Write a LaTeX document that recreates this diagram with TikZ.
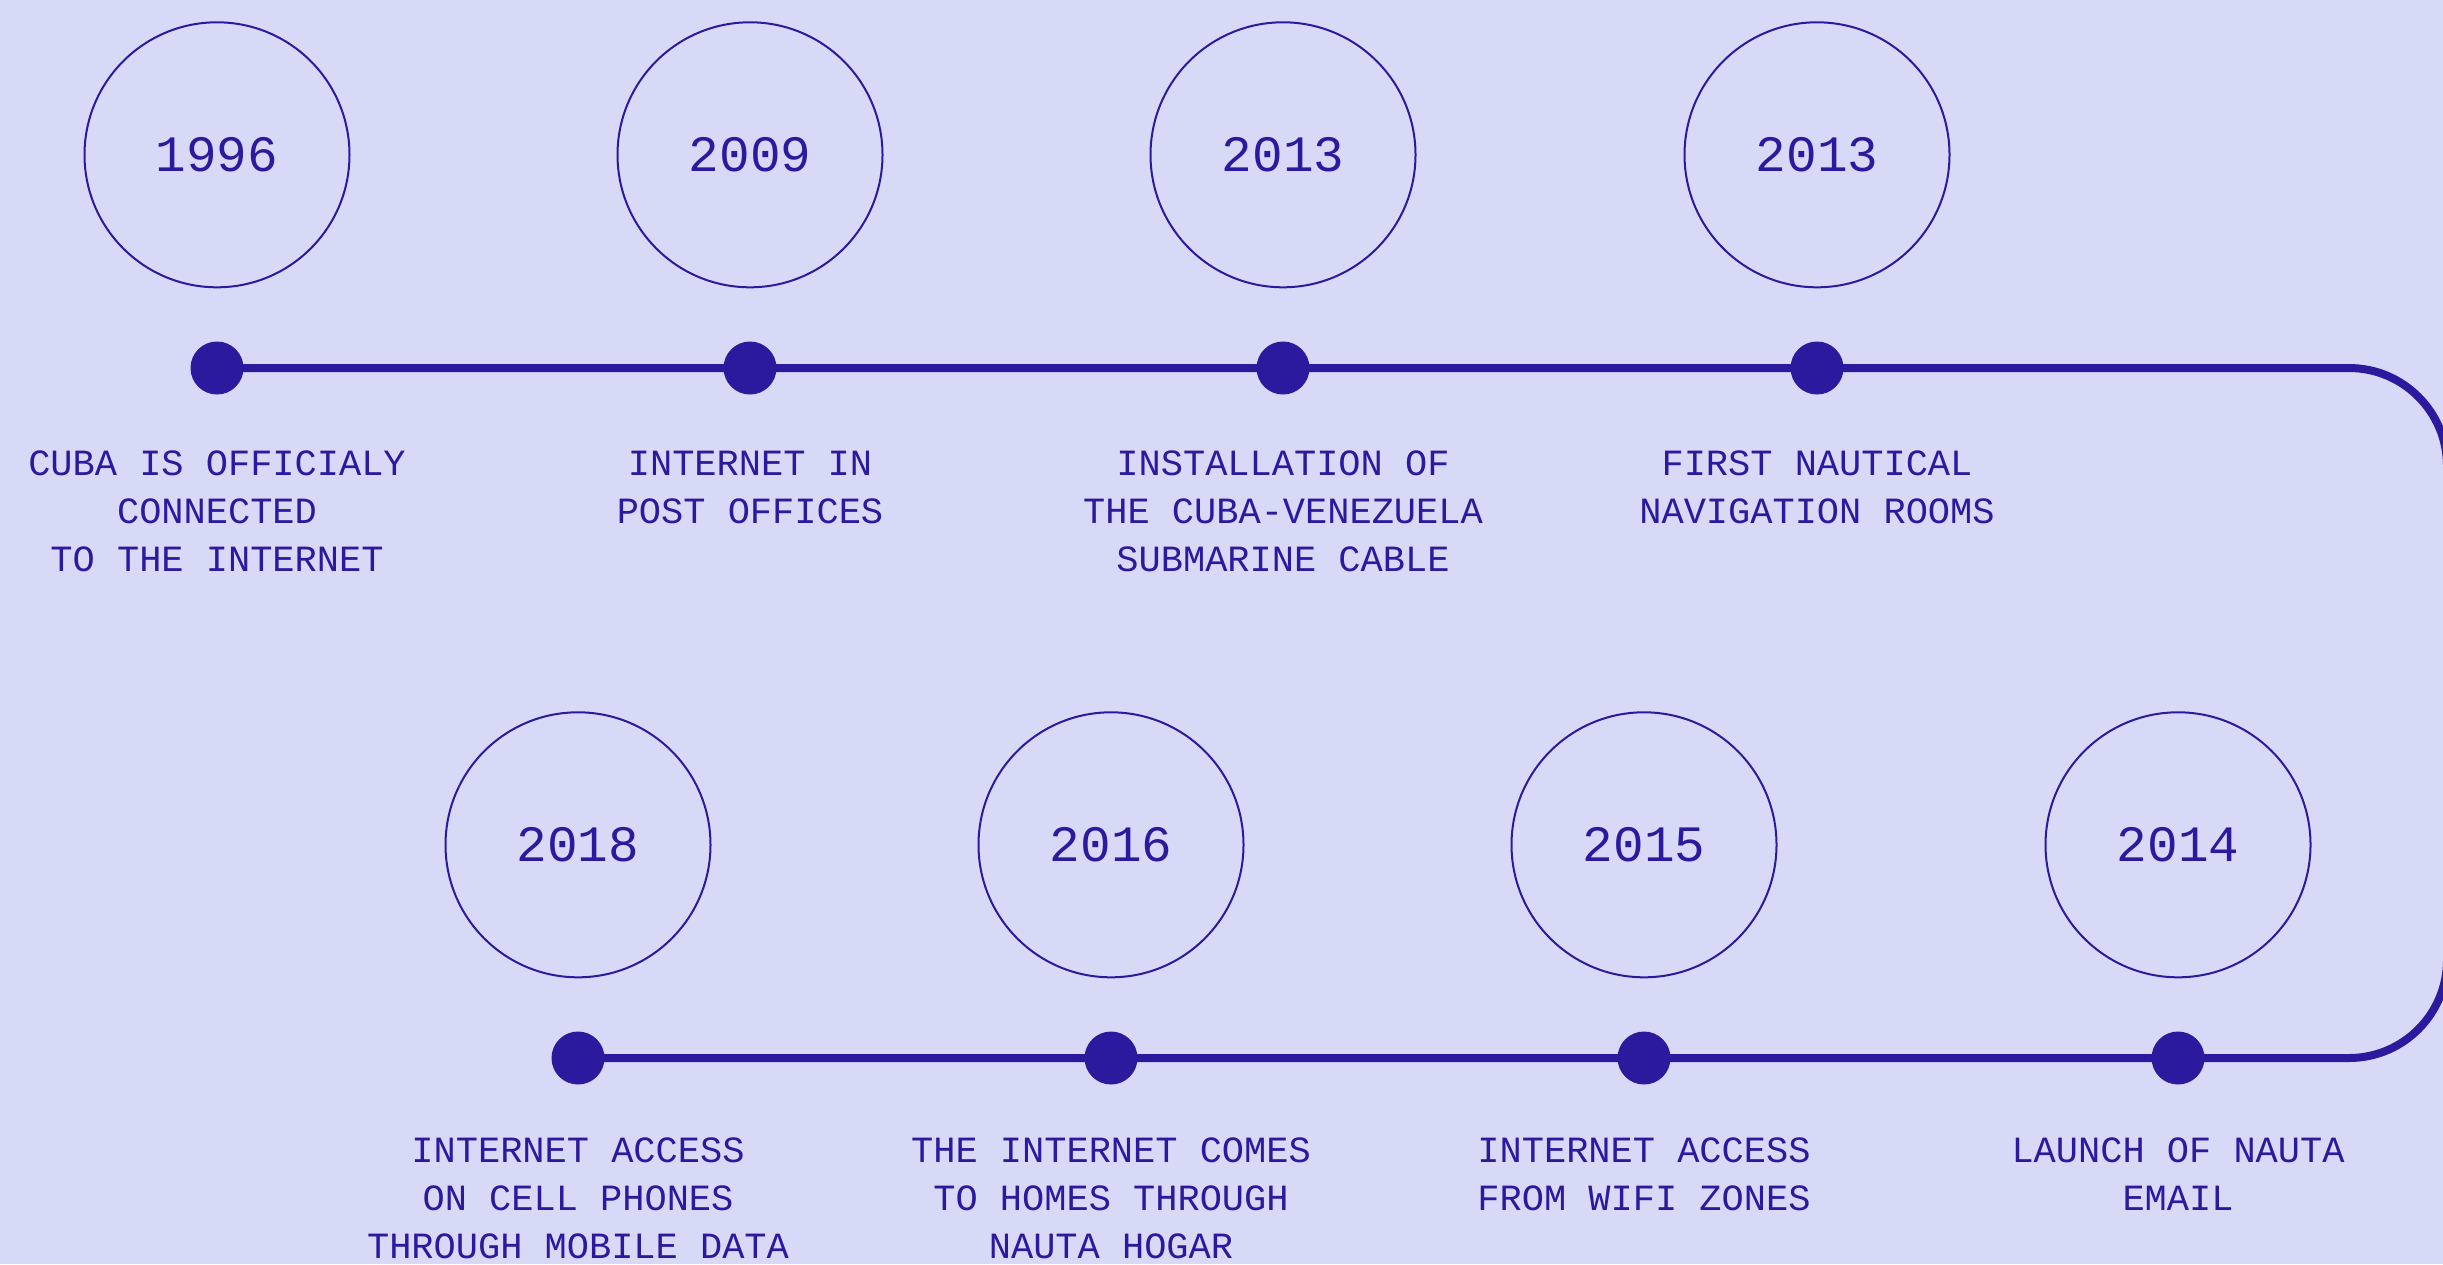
\documentclass[tikz,border=0pt]{standalone}
\usepackage{fontspec}
\setmainfont{Liberation Mono}
\usetikzlibrary{positioning}
\definecolor{ink}{HTML}{2A1A9E}
\definecolor{paper}{HTML}{D7DAF7}

\begin{document}
\begin{tikzpicture}[x = 1pt, y = 1pt, line cap = round, line join = round,
  yearcircle/.style = {circle, draw = ink, line width = 2pt, minimum size = 265pt,
    inner sep = 0, text = ink, font = \fontsize{51}{60}\selectfont},
  stopdot/.style = {circle, fill = ink, minimum size = 53pt, inner sep = 0},
  eventtext/.style = {align = center, text = ink, inner sep = 0,
    font = \fontsize{37}{48}\selectfont},
  timeline/.style = {draw = ink, line width = 8pt}]
  \fill[paper] (0, 0) rectangle (2443, -1264);
  \useasboundingbox (0, 0) rectangle (2443, -1264);

  % top row
  \coordinate (d1) at (217, -368);
  \coordinate (d2) at (750, -368);
  \coordinate (d3) at (1283, -368);
  \coordinate (d4) at (1817, -368);
  % bottom row, read from right to left
  \coordinate (d5) at (2178, -1058);
  \coordinate (d6) at (1644, -1058);
  \coordinate (d7) at (1111, -1058);
  \coordinate (d8) at (578, -1058);
  \coordinate (c1) at (2447, -368);
  \coordinate (c2) at (2447, -1058);

  \draw[timeline, rounded corners = 98pt] (d1) -- (d4) -- (c1) -- (c2) -- (d5)
  -- (d8);

  \node[stopdot] (s1) at (d1) {};
  \node[stopdot] (s2) at (d2) {};
  \node[stopdot] (s3) at (d3) {};
  \node[stopdot] (s4) at (d4) {};
  \node[stopdot] (s5) at (d5) {};
  \node[stopdot] (s6) at (d6) {};
  \node[stopdot] (s7) at (d7) {};
  \node[stopdot] (s8) at (d8) {};

  \node[yearcircle, above = 53pt of s1] (y1) {1996};
  \node[yearcircle, above = 53pt of s2] (y2) {2009};
  \node[yearcircle, above = 53pt of s3] (y3) {2013};
  \node[yearcircle, above = 53pt of s4] (y4) {2013};
  \node[yearcircle, above = 53pt of s5] (y5) {2014};
  \node[yearcircle, above = 53pt of s6] (y6) {2015};
  \node[yearcircle, above = 53pt of s7] (y7) {2016};
  \node[yearcircle, above = 53pt of s8] (y8) {2018};

  \node[eventtext, below = 56pt of s1] (e1)
  {CUBA IS OFFICIALY\\CONNECTED\\TO THE INTERNET};
  \node[eventtext, below = 56pt of s2] (e2) {INTERNET IN\\POST OFFICES};
  \node[eventtext, below = 56pt of s3] (e3)
  {INSTALLATION OF\\THE CUBA-VENEZUELA\\SUBMARINE CABLE};
  \node[eventtext, below = 56pt of s4] (e4) {FIRST NAUTICAL\\NAVIGATION ROOMS};
  \node[eventtext, below = 53pt of s5] (e5) {LAUNCH OF NAUTA\\EMAIL};
  \node[eventtext, below = 53pt of s6] (e6) {INTERNET ACCESS\\FROM WIFI ZONES};
  \node[eventtext, below = 53pt of s7] (e7)
  {THE INTERNET COMES\\TO HOMES THROUGH\\NAUTA HOGAR};
  \node[eventtext, below = 53pt of s8] (e8)
  {INTERNET ACCESS\\ON CELL PHONES\\THROUGH MOBILE DATA};
\end{tikzpicture}
\end{document}
